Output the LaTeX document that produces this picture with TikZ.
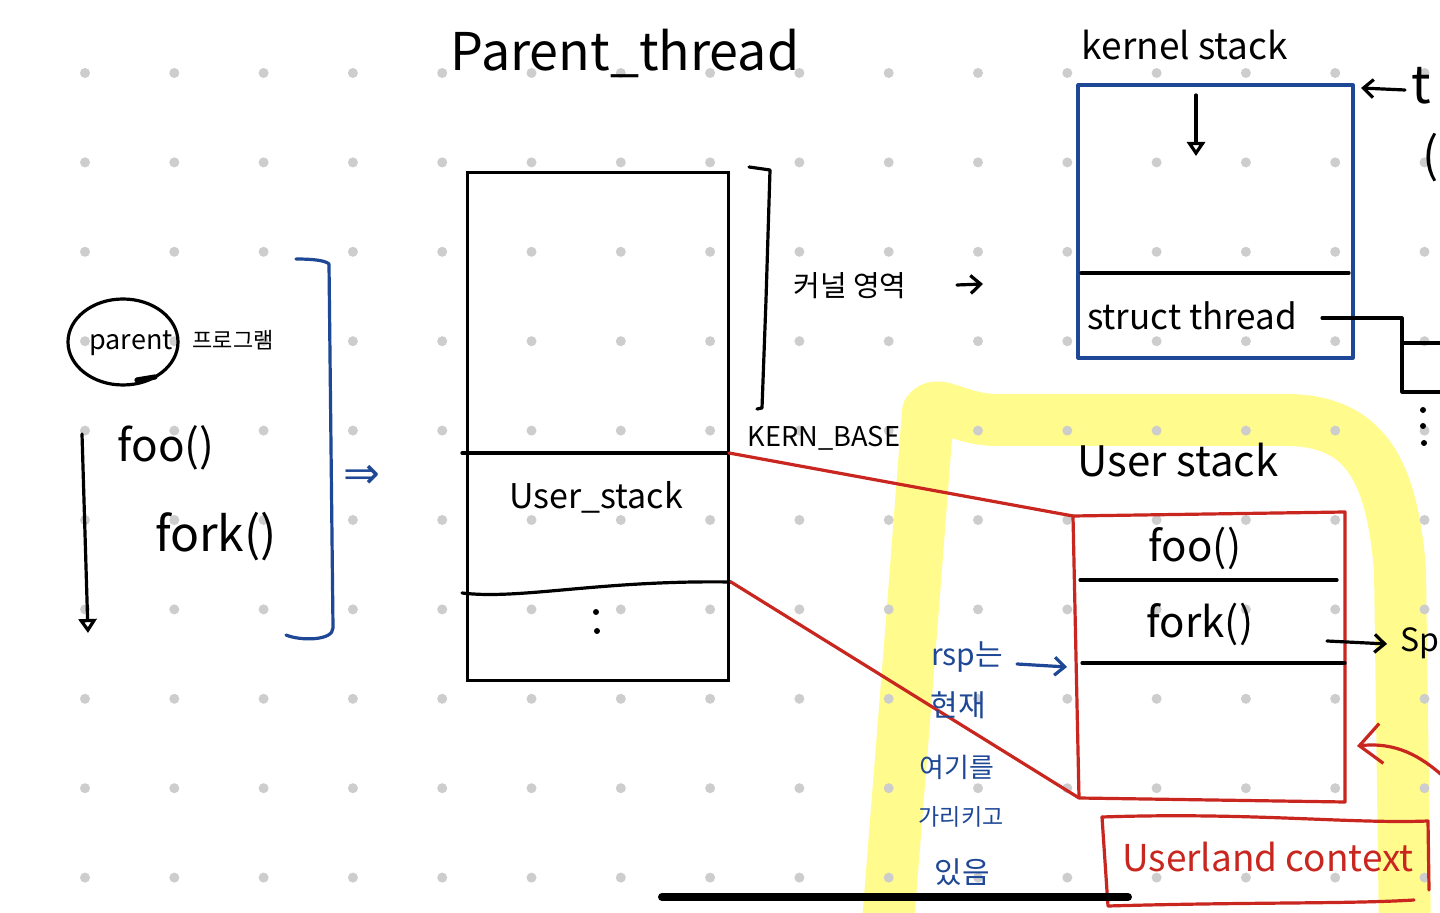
\documentclass[tikz,border=0pt]{standalone}
\usepackage{fontspec}
\setmainfont{Noto Sans CJK KR}
\newfontfamily\dejavu{DejaVu Sans}
\usetikzlibrary{arrows.meta}
\definecolor{dotc}{RGB}{205,205,205}
\definecolor{pblue}{RGB}{30,72,150}
\definecolor{pred}{RGB}{200,38,30}
\definecolor{hly}{RGB}{255,251,140}
\begin{document}
\begin{tikzpicture}[x=0.5pt,y=-0.5pt,
  ink/.style={line width=1.6pt,black,line cap=round,line join=round},
  bink/.style={line width=1.6pt,pblue,line cap=round,line join=round},
  rink/.style={line width=1.6pt,pred,line cap=round,line join=round},
  hl/.style={line width=26pt,hly,line cap=round,line join=round},
  lbl/.style={inner sep=0pt,black},
  fs/.style={font=\fontsize{#1}{#1}\selectfont},
  chev/.style={-{Straight Barb[length=5pt,width=9pt]}},
  bigchev/.style={-{Straight Barb[length=11pt,width=20pt]}},
  tri/.style={-{Triangle[open,length=7pt,width=9pt]}},
]
\useasboundingbox (0,0) rectangle (1440,913);
\clip (0,0) rectangle (1440,913);
\fill[white] (0,0) rectangle (1440,913);

% highlighter
\draw[hl] (887,935) -- (912,620) -- (928,412) .. controls (938,398) and (960,421) .. (1000,420) -- (1290,420) .. controls (1365,422) and (1392,470) .. (1400,570) -- (1405,935);

% dot grid
\foreach \i in {0,...,15}
  \foreach \j in {0,...,9}
    \fill[dotc] ({85+89.3*\i},{73+89.4*\j}) circle[radius=5];

% ---- left: program ----
\draw[ink] (123,342) ellipse [x radius=55, y radius=43];
\draw[ink,line width=2.6pt] (137,380) -- (155,377);
\node[lbl,fs=13.5] (par) at (131,343) {parent};
\node[lbl,fs=11] (prog) at (233,340) {프로그램};
\node[lbl,fs=22] (fool) at (166,448) {foo()};
\node[lbl,fs=24] (forkl) at (216,537) {fork()};
\coordinate (tl0) at (82,434);
\coordinate (tl1) at (88,633);
\draw[ink,tri] (tl0) -- (tl1);
\draw[bink] (296,259) .. controls (310,259) and (325,260) .. (329,264) -- (333,628) .. controls (333,641) and (300,641) .. (286,635);
\node[lbl,text=pblue,font=\dejavu\fontsize{22}{22}\selectfont] (imp) at (362,477) {⇒};

% ---- parent thread ----
\node[lbl,fs=26] (title) at (625,53) {Parent\_thread};
\node[draw=black,line width=1.6pt,inner sep=0pt,minimum width=130.5pt,minimum height=254pt,anchor=north west] (prect) at (466,171) {};
\coordinate (kb) at (729,453);
\coordinate (ub) at (731,582);
\draw[ink] (462,453) -- (kb);
\draw[ink] (462,593) .. controls (520,600) and (600,580) .. (ub);
\node[lbl,fs=17] (ustackL) at (596,497) {User\_stack};
\fill (596,612) circle[radius=3];
\fill (597,631) circle[radius=3];
\draw[ink] (749,167) -- (770,170) -- (766,300) -- (762,408) -- (757,409);
\node[lbl,fs=14.5] (kr) at (850,286) {커널 영역};
\coordinate (kra0) at (957,285);
\coordinate (kra1) at (983,284);
\draw[ink,chev] (kra0) -- (kra1);
\node[lbl,fs=13.6] (kern) at (824,438) {KERN\_BASE};

% ---- kernel stack ----
\node[lbl,fs=18.5] (kstack) at (1185,45) {kernel stack};
\draw[bink] (1078,85) rectangle (1353,358);
\draw[ink] (1081,273) -- (1349,273);
\coordinate (kd0) at (1196,95);
\coordinate (kd1) at (1196,156);
\draw[ink,tri] (kd0) -- (kd1);
\node[lbl,fs=17.5] (sthread) at (1192,316) {struct thread};
\draw[ink] (1322,318) -- (1402,318) -- (1402,392) -- (1450,392);
\draw[ink] (1402,343) -- (1450,343);
\fill (1423,410) circle[radius=3];
\fill (1423,426) circle[radius=3];
\fill (1424,443) circle[radius=3];
\coordinate (ta0) at (1405,90);
\coordinate (ta1) at (1361,88);
\draw[ink,chev] (ta0) -- (ta1);
\node[lbl,fs=26,anchor=west] (tt) at (1411,86) {t};
\node[lbl,fs=24,anchor=west] (paren) at (1422,158) {(};

% ---- user stack ----
\node[lbl,fs=21] (ustackR) at (1178,460) {User stack};
\coordinate (rtl) at (1073,516);
\coordinate (rbl) at (1079,798);
\draw[rink] (rtl) -- (1345,512) -- (1345,802) -- (rbl) -- cycle;
\draw[rink] (kb) -- (rtl);
\draw[rink] (ub) -- (rbl);
\draw[ink] (1080,580) -- (1337,580);
\draw[ink] (1082,663) -- (1345,663);
\node[lbl,fs=21] (foor) at (1195,548) {foo()};
\node[lbl,fs=21] (forkr) at (1200,624) {fork()};
\coordinate (sa0) at (1327,641);
\coordinate (sa1) at (1387,644);
\draw[ink,chev] (sa0) -- (sa1);
\node[lbl,fs=16,anchor=west] (sp) at (1400,643) {Sp};

% rsp note
\node[lbl,text=pblue,fs=15] (rsp) at (967,657) {rsp는};
\node[lbl,text=pblue,fs=15] (cur) at (958,705) {현재};
\node[lbl,text=pblue,fs=13.5] (here) at (957,767) {여기를};
\node[lbl,text=pblue,fs=11.5] (point) at (961,817) {가리키고};
\node[lbl,text=pblue,fs=15] (is) at (962,872) {있음};
\coordinate (ra1) at (1067,667);
\draw[bink,chev] (1017,664) -- (ra1);

% userland context
\draw[rink] (1102,817) .. controls (1250,812) and (1350,824) .. (1428,821) -- (1429,890);
\draw[rink] (1102,817) -- (1108,906) .. controls (1250,902) and (1350,904) .. (1414,900);
\node[lbl,text=pred,fs=18.5] (uctx) at (1268,857) {Userland context};
\coordinate (ca0) at (1445,778);
\coordinate (ca1) at (1357,746);
\draw[rink,bigchev] (ca0) .. controls (1420,755) and (1395,742) .. (ca1);

% bottom bar
\draw[line width=4pt,line cap=round] (662,897) -- (1128,897);
\end{tikzpicture}
\end{document}
